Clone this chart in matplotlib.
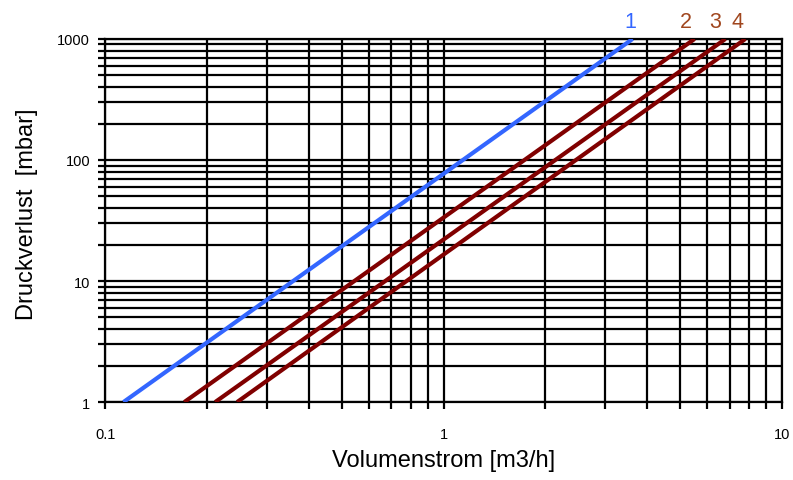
import matplotlib
matplotlib.use("Agg")
import matplotlib.pyplot as plt
from matplotlib.ticker import LogLocator, FixedLocator, FixedFormatter, NullFormatter

plt.rcParams['font.family'] = ['Liberation Sans', 'DejaVu Sans']

# Data: flow [m3/h] at 1 mbar and 1000 mbar for each curve (Δp ~ Q^2)
labels = ["1", "2", "3", "4"]
dp = [1, 1000]
q_curve1 = [0.113, 3.62]
q_curve2 = [0.171, 5.52]
q_curve3 = [0.211, 6.81]
q_curve4 = [0.245, 7.80]
curves = [q_curve1, q_curve2, q_curve3, q_curve4]
label_x = [3.56, 5.19, 6.33, 7.41]
line_colors = ["#3366FF", "#800000", "#800000", "#800000"]
label_colors = ["#3366FF", "#A0461E", "#A0461E", "#A0461E"]

x_ticks = [0.1, 1, 10]
x_tick_labels = ["0.1", "1", "10"]
y_ticks = [1, 10, 100, 1000]
y_tick_labels = ["1", "10", "100", "1000"]

fig = plt.figure(figsize=(7.93, 4.81), dpi=100)
ax = fig.add_axes([0.133, 0.162, 0.853, 0.755])
ax.set_xscale('log')
ax.set_yscale('log')
ax.set_xlim(0.1, 10)
ax.set_ylim(1, 1000)

ax.xaxis.set_major_locator(FixedLocator(x_ticks))
ax.xaxis.set_major_formatter(FixedFormatter(x_tick_labels))
ax.yaxis.set_major_locator(FixedLocator(y_ticks))
ax.yaxis.set_major_formatter(FixedFormatter(y_tick_labels))
ax.xaxis.set_minor_locator(LogLocator(base=10, subs=range(2, 10)))
ax.yaxis.set_minor_locator(LogLocator(base=10, subs=range(2, 10)))
ax.xaxis.set_minor_formatter(NullFormatter())
ax.yaxis.set_minor_formatter(NullFormatter())

ax.grid(True, which='both', color='black', linewidth=1.6)
ax.set_axisbelow(True)
for s in ax.spines.values():
    s.set_linewidth(1.6)
ax.tick_params(which='both', direction='out', length=5, width=1.6, colors='black',
               labelsize=10.5)
ax.tick_params(axis='x', pad=13)
ax.tick_params(axis='y', pad=6)

for q, lx, lc, tc, lab in zip(curves, label_x, line_colors, label_colors, labels):
    ax.plot(q, dp, color=lc, linewidth=3, solid_capstyle='butt', zorder=3)
    ax.text(lx, 1256, lab, color=tc, fontsize=15.5, ha='center', va='baseline')

ax.set_xlabel("Volumenstrom [m3/h]", fontsize=17, labelpad=6)
ax.set_ylabel("Druckverlust  [mbar]", fontsize=17)
ax.yaxis.set_label_coords(-0.10, 0.52)

fig.savefig("out.png", dpi=100)
